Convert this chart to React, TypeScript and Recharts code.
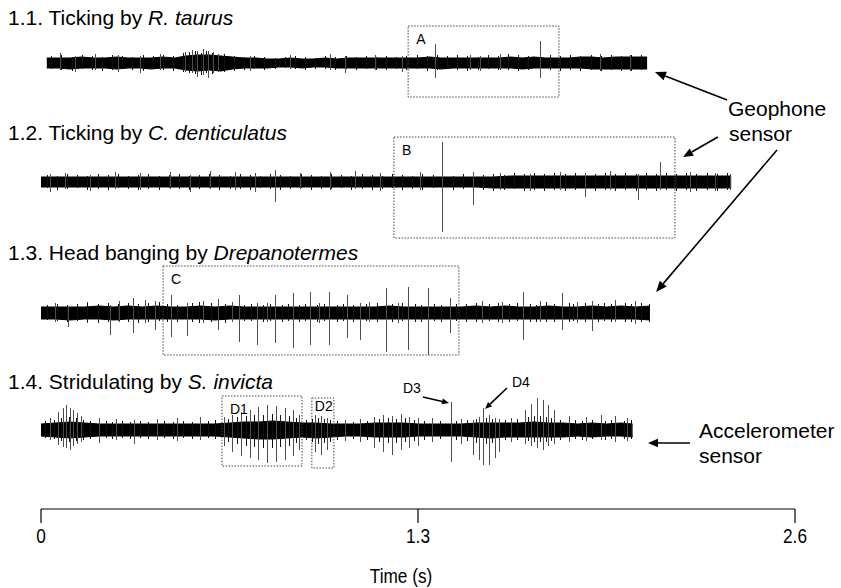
import React from 'react';
import { ComposedChart, Area, Bar, XAxis, YAxis, ReferenceArea, ReferenceLine } from 'recharts';

// ---------- data (time in s, amplitude relative to each trace's baseline) ----------
const timeTicks = [0, 1.3, 2.6];

// 1.1 Ticking by R. taurus  [t, upper, lower]
const trace11Core = [
  [0.02,5,-5],[0.06,5,-5],[0.10,5,-6],[0.14,6,-5],[0.18,5,-5],[0.22,5,-5],[0.26,6,-6],[0.30,5,-5],
  [0.34,5,-5],[0.38,5,-6],[0.42,6,-5],[0.46,5,-5],[0.50,7,-7],[0.54,8,-8],[0.58,8,-7],[0.62,7,-8],
  [0.66,6,-6],[0.70,5,-5],[0.74,5,-5],[0.78,4,-5],[0.82,4,-4],[0.86,5,-4],[0.90,4,-5],[0.94,4,-4],
  [0.98,5,-4],[1.02,4,-5],[1.06,5,-5],[1.10,5,-5],[1.14,5,-5],[1.18,5,-5],[1.22,5,-5],[1.26,5,-5],
  [1.30,5,-5],[1.34,6,-5],[1.38,5,-6],[1.42,5,-5],[1.46,5,-5],[1.50,5,-5],[1.54,5,-5],[1.58,5,-5],
  [1.62,6,-5],[1.66,5,-6],[1.70,6,-5],[1.74,5,-5],[1.78,5,-5],[1.82,5,-5],[1.86,6,-5],[1.90,6,-6],
  [1.94,5,-6],[1.98,6,-6],[2.02,6,-6],[2.06,6,-6],[2.09,6,-6],
];
const trace11Fuzz = [
  [0.035,7,-6],[0.07,8,-7],[0.105,6,-8],[0.14,8,-6],[0.175,7,-7],[0.21,6,-8],[0.245,8,-7],[0.28,7,-6],
  [0.315,6,-7],[0.35,8,-8],[0.385,7,-6],[0.42,8,-7],[0.455,7,-8],[0.49,10,-9],[0.51,11,-10],[0.53,12,-11],
  [0.55,10,-12],[0.57,12,-10],[0.59,10,-11],[0.63,9,-9],[0.665,7,-8],[0.70,6,-7],[0.735,7,-6],[0.77,6,-7],
  [0.805,5,-6],[0.84,6,-5],[0.875,7,-6],[0.91,6,-7],[0.945,5,-6],[0.98,7,-6],[1.015,6,-7],[1.05,7,-6],
  [1.085,6,-7],[1.12,7,-6],[1.155,6,-7],[1.19,7,-7],[1.225,6,-6],[1.26,7,-7],[1.295,8,-6],[1.33,7,-8],
  [1.365,8,-7],[1.40,7,-6],[1.435,8,-7],[1.47,7,-8],[1.505,6,-7],[1.54,8,-6],[1.575,7,-7],[1.61,9,-7],
  [1.645,8,-8],[1.68,7,-7],[1.755,8,-7],[1.79,7,-8],[1.825,8,-7],[1.86,7,-8],[1.895,8,-7],[1.93,7,-8],
  [1.965,8,-7],[2.00,7,-8],[2.035,8,-8],[2.07,8,-7],
];
const trace11Peaks = [
  [0.066,10,-7],[0.117,7,-9],[0.186,9,-7],[0.266,8,-9],[0.341,7,-10],[0.41,9,-7],[0.497,11,-9],
  [0.521,13,-10],[0.538,12,-14],[0.559,14,-12],[0.576,12,-15],[0.593,11,-10],[0.61,9,-9],
  [0.721,7,-8],[0.859,8,-6],[0.997,9,-7],[1.048,7,-10],[1.152,8,-7],[1.245,7,-9],[1.359,19,-15],
  [1.479,8,-7],[1.514,7,-8],[1.583,9,-7],[1.721,22,-15],[1.928,9,-8],[2.031,8,-8],
];

// 1.2 Ticking by C. denticulatus
const trace12Core = [
  [0.00,5,-5],[0.06,5,-5],[0.12,5,-5],[0.18,5,-5],[0.24,5,-5],[0.30,5,-5],[0.36,5,-5],[0.42,5,-5],
  [0.48,5,-5],[0.54,5,-5],[0.60,5,-5],[0.66,5,-5],[0.72,5,-5],[0.78,5,-5],[0.84,5,-5],[0.90,5,-5],
  [0.96,5,-5],[1.02,5,-5],[1.08,5,-5],[1.14,5,-5],[1.20,5,-5],[1.26,5,-5],[1.32,5,-5],[1.38,5,-5],
  [1.44,5,-5],[1.50,5,-5],[1.56,5,-6],[1.62,6,-6],[1.68,6,-6],[1.74,6,-6],[1.80,6,-6],[1.86,6,-6],
  [1.92,6,-6],[1.98,6,-6],[2.04,6,-6],[2.10,6,-6],[2.16,6,-6],[2.22,6,-6],[2.28,6,-6],[2.34,6,-6],
  [2.38,6,-6],
];
const trace12Fuzz = [
  [0.02,7,-6],[0.055,6,-8],[0.09,8,-7],[0.125,7,-6],[0.16,6,-8],[0.195,8,-7],[0.23,7,-8],[0.265,8,-6],
  [0.30,6,-7],[0.335,7,-8],[0.37,8,-7],[0.405,6,-8],[0.44,7,-6],[0.475,8,-7],[0.51,6,-8],[0.545,7,-7],
  [0.58,8,-6],[0.615,7,-8],[0.65,6,-7],[0.685,8,-7],[0.72,7,-8],[0.755,6,-6],[0.79,8,-7],[0.825,7,-8],
  [0.86,6,-7],[0.895,8,-6],[0.93,7,-8],[0.965,6,-7],[1.00,8,-7],[1.035,7,-6],[1.07,6,-8],[1.105,8,-7],
  [1.14,7,-8],[1.175,6,-7],[1.21,8,-6],[1.245,7,-8],[1.28,6,-7],[1.315,8,-8],[1.35,7,-6],[1.42,6,-8],
  [1.455,8,-7],[1.525,7,-8],[1.56,8,-9],[1.595,7,-8],[1.63,9,-7],[1.665,8,-9],[1.70,9,-8],[1.735,8,-9],
  [1.77,9,-8],[1.805,8,-9],[1.84,9,-8],[1.91,8,-9],[1.945,9,-8],[1.98,8,-9],[2.015,9,-8],[2.05,8,-9],
  [2.085,9,-8],[2.12,8,-9],[2.155,9,-8],[2.19,8,-9],[2.225,9,-8],[2.26,8,-9],[2.295,9,-8],[2.33,8,-9],
  [2.365,9,-8],
];
const trace12Peaks = [
  [0.031,8,-10],[0.083,9,-7],[0.169,7,-9],[0.255,10,-7],[0.341,9,-8],[0.445,10,-7],[0.514,7,-10],
  [0.583,11,-7],[0.669,10,-8],[0.738,9,-10],[0.807,12,-20],[0.893,9,-7],[0.997,10,-8],[1.083,11,-7],
  [1.169,9,-9],[1.307,10,-8],[1.383,40,-50],[1.49,10,-23],[1.583,9,-8],[1.686,8,-9],[1.79,10,-8],
  [1.876,9,-15],[1.962,11,-8],[2.059,8,-18],[2.134,20,-8],[2.238,10,-10],[2.324,9,-9],[2.376,8,-8],
];

// 1.3 Head banging by Drepanotermes
const trace13Core = [
  [0.00,6,-6],[0.05,6,-6],[0.10,6,-7],[0.15,6,-6],[0.20,7,-6],[0.25,6,-7],[0.30,7,-6],[0.35,6,-6],
  [0.40,7,-6],[0.45,6,-6],[0.50,6,-6],[0.55,7,-6],[0.60,6,-7],[0.65,7,-6],[0.70,6,-6],[0.75,6,-6],
  [0.80,6,-6],[0.85,6,-6],[0.90,6,-6],[0.95,6,-6],[1.00,6,-6],[1.05,6,-6],[1.10,6,-6],[1.15,6,-6],
  [1.20,7,-6],[1.25,6,-6],[1.30,6,-6],[1.35,6,-6],[1.40,6,-6],[1.45,6,-6],[1.50,7,-6],[1.55,6,-6],
  [1.60,7,-6],[1.65,6,-6],[1.70,6,-6],[1.75,7,-6],[1.80,6,-6],[1.85,6,-6],[1.90,7,-6],[1.95,6,-6],
  [2.00,7,-6],[2.05,6,-6],[2.10,7,-7],
];
const trace13Fuzz = [
  [0.02,8,-7],[0.055,9,-8],[0.09,8,-9],[0.125,9,-8],[0.16,10,-9],[0.195,9,-10],[0.23,10,-9],[0.265,9,-8],
  [0.30,10,-9],[0.335,9,-10],[0.37,10,-9],[0.405,11,-8],[0.435,9,-9],[0.47,8,-9],[0.52,10,-9],[0.545,11,-10],
  [0.585,10,-9],[0.635,9,-10],[0.70,8,-8],[0.725,9,-8],[0.765,8,-9],[0.79,9,-8],[0.83,8,-9],[0.85,9,-8],
  [0.89,8,-9],[0.91,9,-8],[0.95,8,-9],[0.975,9,-8],[1.02,8,-9],[1.04,9,-8],[1.075,8,-9],[1.12,9,-8],
  [1.16,10,-9],[1.21,9,-9],[1.245,10,-8],[1.29,9,-9],[1.31,8,-9],[1.355,9,-8],[1.38,8,-9],[1.43,9,-8],
  [1.465,9,-9],[1.50,10,-9],[1.545,9,-8],[1.575,10,-9],[1.615,9,-9],[1.64,10,-8],[1.685,9,-9],[1.705,8,-9],
  [1.74,11,-9],[1.77,9,-9],[1.82,10,-9],[1.835,9,-8],[1.875,10,-9],[1.92,9,-9],[1.94,10,-8],[1.965,9,-9],
  [2.015,10,-9],[2.035,9,-9],[2.07,10,-9],[2.095,9,-9],
];
const trace13Peaks = [
  [0.05,10,-9],[0.093,6,-14],[0.16,11,-10],[0.238,8,-22],[0.27,12,-9],[0.317,15,-20],[0.36,13,-10],
  [0.393,12,-17],[0.448,18,-24],[0.503,10,-23],[0.56,12,-10],[0.61,14,-17],[0.66,11,-9],
  [0.683,18,-29],[0.745,10,-32],[0.78,10,-9],[0.807,18,-30],[0.869,20,-35],[0.928,21,-32],
  [0.96,10,-10],[0.993,21,-32],[1.055,18,-25],[1.10,10,-27],[1.13,11,-9],[1.19,25,-39],
  [1.23,10,-10],[1.266,26,-37],[1.334,25,-42],[1.41,15,-20],[1.52,12,-10],[1.59,11,-10],
  [1.662,21,-27],[1.72,12,-9],[1.797,20,-17],[1.85,11,-10],[1.90,12,-18],[1.98,13,-9],[2.05,12,-11],
];

// 1.4 Stridulating by S. invicta
const trace14Core = [
  [0.00,6,-6],[0.05,7,-7],[0.10,8,-8],[0.15,7,-7],[0.20,6,-6],[0.25,6,-6],[0.30,6,-6],[0.35,6,-6],
  [0.40,6,-6],[0.45,6,-6],[0.50,6,-6],[0.55,6,-6],[0.60,6,-6],[0.65,7,-7],[0.70,8,-8],[0.75,8,-9],
  [0.80,9,-9],[0.85,8,-8],[0.90,7,-7],[0.95,7,-8],[1.00,6,-7],[1.05,6,-6],[1.10,6,-6],[1.15,7,-7],
  [1.20,7,-7],[1.25,7,-7],[1.30,6,-6],[1.35,6,-6],[1.40,6,-6],[1.45,6,-6],[1.50,7,-7],[1.55,7,-8],
  [1.60,7,-7],[1.65,7,-7],[1.70,8,-7],[1.75,7,-7],[1.80,7,-7],[1.85,6,-6],[1.90,7,-7],[1.95,6,-6],
  [2.00,7,-6],[2.04,6,-7],
];
const trace14Fuzz = [
  [0.015,9,-8],[0.045,10,-9],[0.07,12,-11],[0.095,13,-12],[0.12,12,-11],[0.145,10,-10],[0.17,9,-9],[0.225,9,-8],
  [0.245,8,-9],[0.28,9,-8],[0.305,8,-9],[0.34,9,-8],[0.37,8,-9],[0.425,9,-8],[0.455,8,-9],[0.49,9,-8],
  [0.52,8,-9],[0.575,9,-8],[0.60,10,-9],[0.645,11,-12],[0.675,13,-14],[0.705,14,-16],[0.735,15,-17],[0.765,15,-18],
  [0.795,16,-18],[0.825,15,-17],[0.855,14,-16],[0.88,12,-13],[0.915,10,-10],[0.935,11,-12],[0.955,12,-14],[0.975,11,-13],
  [0.995,10,-12],[1.02,9,-10],[1.075,8,-9],[1.125,9,-10],[1.165,11,-12],[1.195,12,-13],[1.225,11,-13],[1.255,12,-12],
  [1.285,10,-11],[1.32,9,-10],[1.375,9,-9],[1.43,9,-10],[1.47,10,-11],[1.50,11,-13],[1.535,12,-14],[1.555,11,-13],
  [1.60,10,-10],[1.64,11,-10],[1.68,13,-11],[1.70,14,-12],[1.72,14,-12],[1.74,13,-12],[1.76,12,-11],[1.79,10,-10],
  [1.84,10,-9],[1.865,9,-10],[1.90,10,-9],[1.945,9,-10],[1.965,10,-9],[2.01,9,-9],[2.035,10,-9],
];
const trace14Peaks = [
  [0.03,12,-10],[0.06,18,-15],[0.075,22,-17],[0.088,25,-18],[0.10,22,-20],[0.112,20,-16],[0.125,17,-14],
  [0.138,14,-12],[0.20,12,-13],[0.26,11,-10],[0.32,10,-14],[0.40,11,-10],[0.47,12,-11],[0.55,13,-10],
  [0.63,13,-16],[0.66,15,-22],[0.69,18,-26],[0.72,20,-28],[0.75,23,-30],[0.78,25,-33],[0.81,24,-32],
  [0.84,22,-30],[0.87,20,-26],[0.89,15,-20],[0.945,15,-22],[0.965,14,-25],[0.985,12,-20],
  [1.05,10,-11],[1.10,11,-12],[1.15,13,-18],[1.18,15,-22],[1.21,14,-25],[1.24,16,-20],[1.27,13,-18],
  [1.30,12,-16],[1.35,12,-12],[1.414,28,-32],[1.45,11,-14],[1.49,10,-25],[1.51,13,-30],[1.524,22,-35],
  [1.545,15,-35],[1.565,12,-28],[1.58,11,-22],[1.62,12,-12],[1.67,20,-14],[1.69,26,-16],[1.71,32,-18],
  [1.73,30,-20],[1.75,25,-16],[1.77,20,-14],[1.82,14,-12],[1.88,13,-11],[1.93,15,-10],[1.98,14,-12],
  [2.02,12,-11],
];

// highlighted windows [label, trace index, t start, t end, upper, lower]
const boxes = [
  ['A', 0, 1.266, 1.786, 37, -34],
  ['B', 1, 1.217, 2.186, 45, -56],
  ['C', 2, 0.421, 1.441, 47, -42],
  ['D1', 3, 0.624, 0.900, 34, -36],
  ['D2', 3, 0.934, 1.010, 32, -38],
];

// ---------- layout ----------
const W = 841;
const H = 588;
const Y_MAX = 509;
const traceBaselines = [446, 327, 196, 79];
const FONT = "'Liberation Sans', Arial, Helvetica, sans-serif";

// annotation arrows: tail (t, y) -> tip (t, y), head size
const arrows = [
  [2.366, 409, 2.117, 437, 11],
  [2.334, 372, 2.214, 352, 10],
  [2.538, 359, 2.121, 217, 11],
  [2.238, 66, 2.093, 66, 10],
  [1.317, 112, 1.407, 106, 7],
  [1.607, 121, 1.531, 100, 7],
];

const cores = [trace11Core, trace12Core, trace13Core, trace14Core];
const fuzz = [trace11Fuzz, trace12Fuzz, trace13Fuzz, trace14Fuzz];
const peaks = [trace11Peaks, trace12Peaks, trace13Peaks, trace14Peaks];

const rows: any[] = [];
cores.forEach((arr, i) => {
  arr.forEach(([t, hi, lo]) => {
    rows.push({ t, ['c' + i]: [traceBaselines[i] + lo, traceBaselines[i] + hi] });
  });
});
fuzz.forEach((arr, i) => {
  arr.forEach(([t, hi, lo]) => {
    rows.push({ t, f: [traceBaselines[i] + lo, traceBaselines[i] + hi] });
  });
});
peaks.forEach((arr, i) => {
  arr.forEach(([t, hi, lo]) => {
    rows.push({ t, w: [traceBaselines[i] + lo, traceBaselines[i] + hi] });
  });
});
rows.sort((a, b) => a.t - b.t);

// thin vertical stroke for one sample, centred where the library placed the bar
function makeStroke(w: number, color: string) {
  return (p: any) => {
    const { x, y, width, height } = p;
    if (x == null || y == null || !isFinite(height)) return <g />;
    const cx = Math.round(x + width / 2);
    return <rect x={cx - w / 2} y={y} width={w} height={Math.max(height, 1)} fill={color} shapeRendering="crispEdges" />;
  };
}
const peakShape = makeStroke(1, '#4d4d4d');
const fuzzShape = makeStroke(1, '#111');

function ArrowShape(props: any) {
  const { x1, y1, x2, y2, head } = props;
  const ang = Math.atan2(y2 - y1, x2 - x1);
  const hw = head * 0.42;
  const bx = x2 - head * Math.cos(ang);
  const by = y2 - head * Math.sin(ang);
  const nx = -Math.sin(ang) * hw;
  const ny = Math.cos(ang) * hw;
  return (
    <g>
      <line x1={x1} y1={y1} x2={bx} y2={by} stroke="#000" strokeWidth={1.6} />
      <polygon points={`${x2},${y2} ${bx + nx},${by + ny} ${bx - nx},${by - ny}`} fill="#000" />
    </g>
  );
}

function NarrowTick(props: any) {
  const { x, y, payload } = props;
  return (
    <g transform={`translate(${x},${y})`}>
      <text transform="scale(0.82,1)" textAnchor="middle" dy="0.71em" fontSize={21} fill="#000" fontFamily={FONT}>
        {String(payload.value)}
      </text>
    </g>
  );
}

const textStyle: any = { position: 'absolute', fontFamily: FONT, fontSize: 21, lineHeight: '21px', color: '#000', whiteSpace: 'nowrap' };
const smallStyle: any = { position: 'absolute', fontFamily: FONT, fontSize: 14, lineHeight: '14px', color: '#000', whiteSpace: 'nowrap' };

export default function App() {
  return (
    <div style={{ position: 'absolute', left: 0, top: 0, width: W, height: H, background: '#fff', overflow: 'hidden' }}>
      <ComposedChart width={W} height={H} data={rows} barGap={0} margin={{ top: 0, right: 46, bottom: 49, left: 41 }}>
        <XAxis
          dataKey="t"
          type="number"
          domain={[0, 2.6]}
          ticks={timeTicks}
          allowDataOverflow
          height={30}
          tickSize={14}
          tickMargin={5}
          axisLine={{ stroke: '#000', strokeWidth: 1.2 }}
          tickLine={{ stroke: '#000', strokeWidth: 1.2 }}
          tick={<NarrowTick />}
        />
        <YAxis hide type="number" domain={[0, Y_MAX]} allowDataOverflow />
        <Bar dataKey="w" barSize={1} fill="#4d4d4d" shape={peakShape} isAnimationActive={false} />
        <Bar dataKey="f" barSize={1} fill="#111" shape={fuzzShape} isAnimationActive={false} />
        {cores.map((_, i) => (
          <Area
            key={'c' + i}
            dataKey={'c' + i}
            type="linear"
            connectNulls
            stroke="#000"
            strokeWidth={1}
            fill="#000"
            fillOpacity={1}
            dot={false}
            activeDot={false}
            isAnimationActive={false}
          />
        ))}
        {boxes.map(([label, ti, t1, t2, up, lo]: any) => (
          <ReferenceArea
            key={label}
            x1={t1}
            x2={t2}
            y1={traceBaselines[ti] + lo}
            y2={traceBaselines[ti] + up}
            fill="none"
            fillOpacity={0}
            stroke="#444"
            strokeWidth={1}
            strokeDasharray="1.5 1.5"
            ifOverflow="visible"
            label={{ value: label, position: 'insideTopLeft', offset: label === 'D2' ? 3 : 8, fontSize: 14, fill: '#000', fontFamily: FONT }}
          />
        ))}
        {arrows.map(([ta, ya, tb, yb, head], i) => (
          <ReferenceLine
            key={'ar' + i}
            segment={[{ x: ta, y: ya }, { x: tb, y: yb }]}
            ifOverflow="visible"
            stroke="#000"
            shape={(p: any) => <ArrowShape {...p} head={head} />}
          />
        ))}
      </ComposedChart>

      <div style={{ ...textStyle, left: 8, top: 7 }}>1.1. Ticking by <i>R. taurus</i></div>
      <div style={{ ...textStyle, left: 8, top: 122 }}>1.2. Ticking by <i>C. denticulatus</i></div>
      <div style={{ ...textStyle, left: 8, top: 242 }}>1.3. Head banging by <i>Drepanotermes</i></div>
      <div style={{ ...textStyle, left: 8, top: 371 }}>1.4. Stridulating by <i>S. invicta</i></div>

      <div style={{ ...textStyle, left: 728, top: 98 }}>Geophone</div>
      <div style={{ ...textStyle, left: 729, top: 123 }}>sensor</div>
      <div style={{ ...textStyle, left: 699, top: 420 }}>Accelerometer</div>
      <div style={{ ...textStyle, left: 699, top: 445 }}>sensor</div>

      <div style={{ ...smallStyle, left: 403, top: 381 }}>D3</div>
      <div style={{ ...smallStyle, left: 512, top: 375 }}>D4</div>

      <div style={{ ...textStyle, left: 301, width: 200, textAlign: 'center', top: 565, transform: 'scaleX(0.82)' }}>Time (s)</div>
    </div>
  );
}
